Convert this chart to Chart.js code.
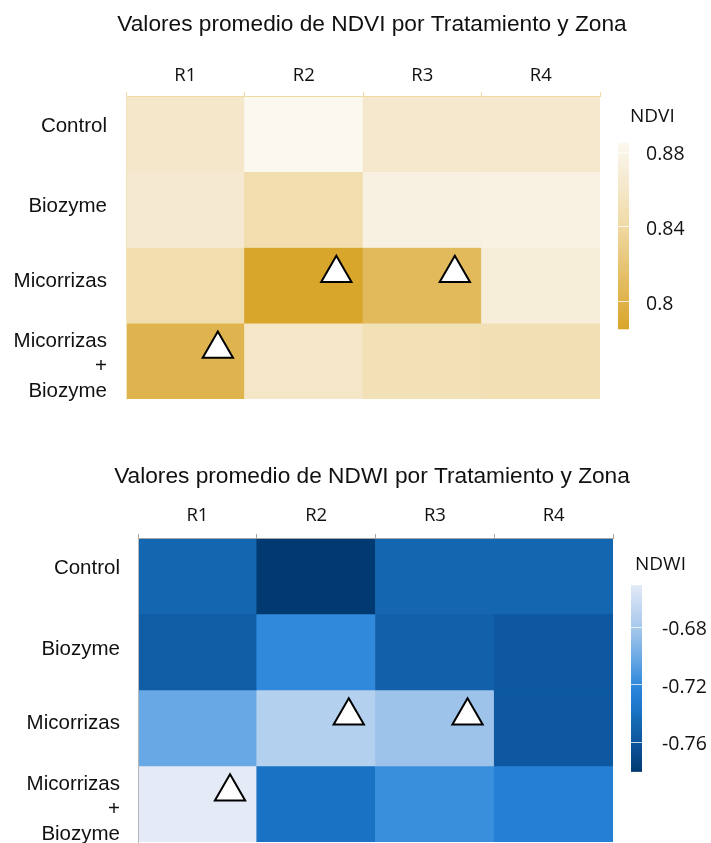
<!DOCTYPE html>
<html>
<head>
<meta charset="utf-8">
<script src="https://cdn.jsdelivr.net/npm/chart.js@4.4.1/dist/chart.umd.min.js"></script>
<style>
html,body{margin:0;padding:0;background:#fff;overflow:hidden;width:711px;height:843px;}
canvas{position:absolute;left:0;}
#c1{top:0;}
#c2{top:420px;}
</style>
</head>
<body>
<canvas id="c1" width="744" height="420"></canvas>
<canvas id="c2" width="744" height="423"></canvas>
<script>
// ---------- DATA ----------
const zones = ['R1', 'R2', 'R3', 'R4'];
const treatments = ['Control', 'Biozyme', 'Micorrizas', 'Micorrizas + Biozyme'];

// NDVI mean values (rows = treatments, columns = zones R1..R4)
const ndviControl      = [0.862, 0.8863, 0.864, 0.864];
const ndviBiozyme      = [0.866, 0.846, 0.877, 0.878];
const ndviMicorrizas   = [0.846, 0.7866, 0.810, 0.872];
const ndviMicBiozyme   = [0.803, 0.860, 0.851, 0.850];

// NDWI mean values
const ndwiControl      = [-0.746, -0.7788, -0.746, -0.746];
const ndwiBiozyme      = [-0.752, -0.718, -0.750, -0.756];
const ndwiMicorrizas   = [-0.700, -0.672, -0.682, -0.756];
const ndwiMicBiozyme   = [-0.6489, -0.737, -0.715, -0.725];

// cells flagged with a triangle [treatment, zone]
const flaggedCells = [['Micorrizas', 'R2'], ['Micorrizas', 'R3'], ['Micorrizas + Biozyme', 'R1']];

// colour bar tick labels
const ndviTicks = [0.8, 0.84, 0.88];
const ndwiTicks = [-0.76, -0.72, -0.68];

// colour palettes (value -> colour stops)
const ndviPalette = [[0.7866, '#D9A62C'], [0.81, '#E2BA5C'], [0.845, '#F1DCAB'], [0.865, '#F5E9CF'], [0.8863, '#FBF8EF']];
const ndwiPalette = [[-0.7788, '#003A70'], [-0.76, '#0B529A'], [-0.745, '#1467B0'], [-0.735, '#1A75C8'], [-0.72, '#2B86DB'], [-0.70, '#68A8E4'], [-0.68, '#A3C6EC'], [-0.6489, '#E4EBF7']];

// ---------- HELPERS ----------
function hexToRgb(h) { return [parseInt(h.substr(1, 2), 16), parseInt(h.substr(3, 2), 16), parseInt(h.substr(5, 2), 16)]; }
function makeColorScale(stops) {
  const s = stops.map(([v, c]) => [v, hexToRgb(c)]);
  return function (v) {
    if (v <= s[0][0]) return 'rgb(' + s[0][1].join(',') + ')';
    if (v >= s[s.length - 1][0]) return 'rgb(' + s[s.length - 1][1].join(',') + ')';
    for (let i = 0; i < s.length - 1; i++) {
      const [v0, c0] = s[i], [v1, c1] = s[i + 1];
      if (v >= v0 && v <= v1) {
        const t = (v - v0) / (v1 - v0);
        return 'rgb(' + c0.map((c, k) => Math.round(c + (c1[k] - c) * t)).join(',') + ')';
      }
    }
  };
}

const MARK_DX = 0.775, MARK_DY = 0.34;           // triangle position inside its cell
const LABEL_NUDGE = [-0.10, -0.04, -0.06, 0.07];  // row label vertical nudge (row units)

function noPad(s) { s.paddingTop = 0; s.paddingBottom = 0; s.paddingLeft = 0; s.paddingRight = 0; }

function makeColorbarPlugin(cfg) {
  return {
    id: 'colorbar',
    afterDraw(chart) {
      const s = chart.scales.cb, ctx = chart.ctx;
      const x0 = chart.chartArea.right + cfg.barOffset;
      const yTop = s.getPixelForValue(cfg.vmax), yBot = s.getPixelForValue(cfg.vmin);
      const n = Math.ceil(yBot - yTop);
      ctx.save();
      for (let i = 0; i < n; i++) {
        const v = cfg.vmax - (i + 0.5) / n * (cfg.vmax - cfg.vmin);
        ctx.fillStyle = cfg.colorOf(v);
        ctx.fillRect(x0, yTop + i, cfg.barW, Math.min(1.5, yBot - yTop - i));
      }
      ctx.fillStyle = 'rgba(255,255,255,0.75)';
      cfg.ticks.forEach(t => {
        const y = s.getPixelForValue(t) - 3;
        if (y > yTop + 1 && y < yBot - 1) ctx.fillRect(x0, Math.round(y), cfg.barW, 1);
      });
      ctx.fillStyle = '#111';
      ctx.font = '19px "Open Sans"';
      ctx.textBaseline = 'middle';
      ctx.textAlign = 'left';
      ctx.fillText(cfg.title, x0 + cfg.titleDx, yTop + cfg.titleDy);
      ctx.restore();
    }
  };
}

function heatmap(canvasId, rows, palette, ticks, cfg) {
  const colorOf = makeColorScale(palette);
  const all = rows.flat();
  const vmin = Math.min(...all), vmax = Math.max(...all);
  const datasets = rows.map((vals, r) => ({
    type: 'bar',
    label: treatments[r],
    data: zones.map(() => [r, r + 1]),
    backgroundColor: vals.map(colorOf),
    borderWidth: 0,
    grouped: false,
    barPercentage: 1,
    categoryPercentage: 1,
    order: 1,
    xAxisID: 'x',
    yAxisID: 'y'
  }));
  datasets.push({
    type: 'scatter',
    label: 'flag',
    data: flaggedCells.map(([t, z]) => ({ x: zones.indexOf(z) + MARK_DX, y: treatments.indexOf(t) + MARK_DY })),
    xAxisID: 'x2',
    yAxisID: 'y',
    pointStyle: 'triangle',
    pointRadius: 17.5,
    pointBackgroundColor: '#ffffff',
    pointBorderColor: '#000000',
    pointBorderWidth: 2,
    order: 0
  });

  return new Chart(document.getElementById(canvasId), {
    type: 'bar',
    data: { labels: zones, datasets },
    options: {
      responsive: false,
      animation: false,
      devicePixelRatio: 1,
      events: [],
      layout: { autoPadding: false, padding: { left: 0, right: 0, top: 0, bottom: cfg.padBottom } },
      plugins: {
        legend: { display: false },
        tooltip: { enabled: false },
        title: {
          display: true,
          text: cfg.title,
          color: '#111',
          font: { family: '"Liberation Sans", Arial, sans-serif', size: 22.7, weight: 'normal', lineHeight: 1.2 },
          padding: { top: cfg.titleTop, bottom: 0 }
        }
      },
      scales: {
        x: {
          type: 'category',
          position: 'top',
          offset: true,
          grid: { offset: true, drawOnChartArea: false, drawTicks: true, tickLength: 4, color: cfg.axisColor, lineWidth: 1 },
          border: { display: true, color: cfg.axisColor, width: 1, z: 1 },
          ticks: { color: '#111', font: { family: '"Open Sans", sans-serif', size: 18.5, lineHeight: 1.2 }, padding: cfg.xPad, maxRotation: 0 },
          afterFit: s => { s.height = cfg.topH; noPad(s); }
        },
        x2: { type: 'linear', min: 0, max: 4, offset: false, display: false },
        y: {
          type: 'linear',
          position: 'left',
          min: 0, max: 4,
          reverse: true,
          offset: false,
          afterBuildTicks: s => { s.ticks = treatments.map((t, i) => ({ value: i + 0.5 + LABEL_NUDGE[i] })); },
          grid: { display: false, drawTicks: false },
          border: { display: true, color: cfg.axisColorLeft, width: 1, z: 1 },
          ticks: {
            autoSkip: false,
            color: '#111',
            font: { family: '"Liberation Sans", Arial, sans-serif', size: 20.5, lineHeight: 1.2 },
            padding: cfg.yPad,
            callback: v => treatments[Math.floor(v)].split(' ')
          },
          afterFit: s => { s.width = cfg.leftW; noPad(s); }
        },
        cb: {
          type: 'linear',
          position: 'right',
          min: cfg.cbMin, max: cfg.cbMax,
          offset: false,
          afterBuildTicks: s => { s.ticks = ticks.map(v => ({ value: v })); },
          grid: { display: false, drawTicks: false },
          border: { display: false },
          ticks: {
            autoSkip: false,
            color: '#111',
            font: { family: '"Open Sans", sans-serif', size: 19.5 },
            padding: cfg.cbPad,
            callback: v => String(v)
          },
          afterFit: s => { s.width = cfg.rightW; noPad(s); }
        }
      }
    },
    plugins: [makeColorbarPlugin({ vmin, vmax, colorOf, ticks, barOffset: 18, barW: 11, title: cfg.cbTitle, titleDx: cfg.cbTitleDx, titleDy: cfg.cbTitleDy })]
  });
}

// ---------- CHARTS ----------
heatmap('c1', [ndviControl, ndviBiozyme, ndviMicorrizas, ndviMicBiozyme], ndviPalette, ndviTicks, {
  title: 'Valores promedio de NDVI por Tratamiento y Zona',
  titleTop: 11, topH: 57.8, leftW: 126, rightW: 144, padBottom: 21,
  xPad: 5, yPad: 19, cbPad: 46,
  cbMin: 0.74923, cbMax: 0.91136,
  axisColor: '#EFD9A2', axisColorLeft: '#F3E3B9',
  cbTitle: 'NDVI', cbTitleDx: 12, cbTitleDy: -26
});

heatmap('c2', [ndwiControl, ndwiBiozyme, ndwiMicorrizas, ndwiMicBiozyme], ndwiPalette, ndwiTicks, {
  title: 'Valores promedio de NDWI por Tratamiento y Zona',
  titleTop: 42.8, topH: 48, leftW: 138, rightW: 131, padBottom: 1,
  xPad: 7.5, yPad: 18, cbPad: 49,
  cbMin: -0.82769, cbMax: -0.61621,
  axisColor: '#A6A6A6', axisColorLeft: '#B8B8B8',
  cbTitle: 'NDWI', cbTitleDx: 4, cbTitleDy: -20
});
</script>
</body>
</html>
